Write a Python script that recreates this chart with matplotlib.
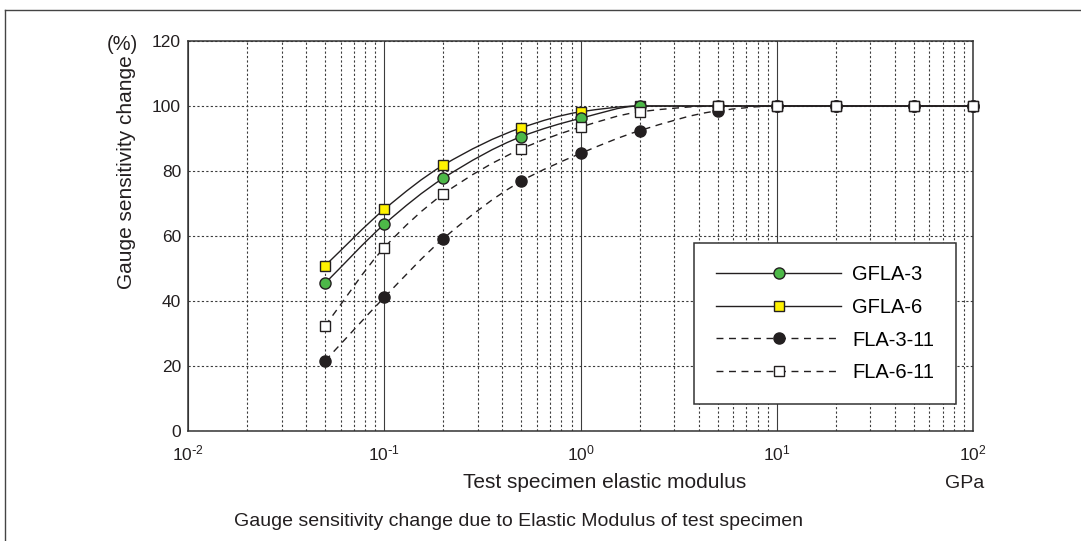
import numpy as np
import matplotlib
matplotlib.use('Agg')
import matplotlib.pyplot as plt
from matplotlib.path import Path
from matplotlib.patches import PathPatch
from matplotlib.lines import Line2D
from matplotlib.ticker import LogLocator, NullFormatter, FuncFormatter

plt.rcParams['font.family'] = ['Liberation Sans', 'DejaVu Sans']
plt.rcParams['mathtext.default'] = 'regular'
plt.rcParams['axes.unicode_minus'] = False
plt.rcParams['lines.scale_dashes'] = False

W, H = 1081, 541

# elastic modulus of test specimen (GPa)
MODULUS = [0.05, 0.1, 0.2, 0.5, 1, 2, 5, 10, 20, 50, 100]
# gauge sensitivity change (%)
GFLA_3 = [45.5, 63.6, 77.8, 90.6, 96.2, 100, 100, 100, 100, 100, 100]
GFLA_6 = [50.9, 68.2, 81.8, 93.3, 98.2, 100, 100, 100, 100, 100, 100]
FLA_3_11 = [21.6, 41.1, 59.2, 76.9, 85.4, 92.4, 98.5, 100, 100, 100, 100]
FLA_6_11 = [32.4, 56.4, 72.9, 86.8, 93.5, 98.2, 100, 100, 100, 100, 100]
LABELS = ['GFLA-3', 'GFLA-6', 'FLA-3-11', 'FLA-6-11']
Y_TICKS = [0, 20, 40, 60, 80, 100, 120]
X_TICKS = [1e-2, 1e-1, 1e0, 1e1, 1e2]

INK = '#231f20'
GRID = '#3c3c3c'
DASH = (0, (5, 4))
DOT = (0, (1.6, 1.6))

# (values, linestyle, marker, face colour, zorder) in legend order
STYLES = [
    (GFLA_3, '-', 'o', '#4db848', 4),
    (GFLA_6, '-', 's', '#fff200', 3),
    (FLA_3_11, DASH, 'o', INK, 5),
    (FLA_6_11, DASH, 's', 'white', 6),
]


def smooth_path(xs, ys):
    # monotone cubic through the points, as bezier segments in log-x space
    u = np.log10(np.asarray(xs, dtype=float))
    y = np.asarray(ys, dtype=float)
    h = np.diff(u)
    d = np.diff(y) / h
    m = np.zeros_like(y)
    m[0], m[-1] = d[0], d[-1]
    for i in range(1, len(y) - 1):
        if d[i - 1] * d[i] > 0:
            w1 = 2 * h[i] + h[i - 1]
            w2 = h[i] + 2 * h[i - 1]
            m[i] = (w1 + w2) / (w1 / d[i - 1] + w2 / d[i])
    verts = [(xs[0], y[0])]
    codes = [Path.MOVETO]
    for i in range(len(y) - 1):
        c1 = (10 ** (u[i] + h[i] / 3), y[i] + m[i] * h[i] / 3)
        c2 = (10 ** (u[i + 1] - h[i] / 3), y[i + 1] - m[i + 1] * h[i] / 3)
        verts += [c1, c2, (xs[i + 1], y[i + 1])]
        codes += [Path.CURVE4] * 3
    return Path(verts, codes)


def decade_label(x, pos):
    e = int(round(np.log10(x)))
    exp = r'\text{-}%d' % -e if e < 0 else '%d' % e
    return r'$\mathdefault{10^{%s}}$' % exp


fig = plt.figure(figsize=(W / 100, H / 100), dpi=100)
ax = fig.add_axes([188 / W, 1 - 431 / H, (973 - 188) / W, (431 - 41) / H])

ax.set_xscale('log')
ax.set_xlim(1e-2, 1e2)
ax.set_ylim(0, 120)
ax.set_xticks(X_TICKS)
ax.xaxis.set_major_formatter(FuncFormatter(decade_label))
ax.xaxis.set_minor_locator(LogLocator(base=10, subs=np.arange(2, 10)))
ax.xaxis.set_minor_formatter(NullFormatter())
ax.set_yticks(Y_TICKS)
ax.tick_params(which='both', length=0, labelsize=12.5, colors=INK)
ax.tick_params(axis='y', pad=5)
ax.tick_params(axis='x', pad=9)

ax.grid(which='major', axis='x', color=GRID, lw=0.8, ls='-')
ax.grid(which='minor', axis='x', color=GRID, lw=0.8, ls=DOT)
ax.grid(which='major', axis='y', color=GRID, lw=0.8, ls=DOT)
ax.set_axisbelow(True)
for sp in ax.spines.values():
    sp.set_color('#333333')
    sp.set_linewidth(1.1)

handles = []
for vals, ls, mk, fc, z in STYLES:
    ax.add_patch(PathPatch(smooth_path(MODULUS, vals), fill=False,
                           edgecolor=INK, lw=1.0, linestyle=ls, zorder=2.5))
    ms = 8 if mk == 'o' else 7.5
    ax.plot(MODULUS, vals, ls='none', marker=mk, ms=ms, mfc=fc, mec=INK,
            mew=1.0, zorder=z, clip_on=False)
    handles.append(Line2D([], [], color=INK, lw=1.0, ls=ls, marker=mk,
                          ms=ms, mfc=fc, mec=INK, mew=1.0))

leg = ax.legend(handles, LABELS, loc='upper left',
                bbox_to_anchor=((694 - 188) / 785, (431 - 243) / 390),
                frameon=True, fancybox=False, edgecolor='#333333',
                framealpha=1, fontsize=14.5, handlelength=6.2,
                handletextpad=0.55, borderpad=1.1, labelspacing=0.68,
                borderaxespad=0)
leg.get_frame().set_linewidth(1.1)
leg.set_zorder(10)

fig.text(126 / W, 1 - 172 / H, 'Gauge sensitivity change', rotation=90,
         fontsize=15, ha='center', va='center', color=INK)
fig.text(138 / W, 1 - 45 / H, '(%)', fontsize=14.5, ha='right',
         va='center', color=INK)
fig.text(605 / W, 1 - 483 / H, 'Test specimen elastic modulus',
         fontsize=15, ha='center', va='center', color=INK)
fig.text(965 / W, 1 - 483 / H, 'GPa', fontsize=14, ha='center',
         va='center', color=INK)
fig.text(518 / W, 1 - 521 / H,
         'Gauge sensitivity change due to Elastic Modulus of test specimen',
         fontsize=14, ha='center', va='center', color=INK)

# outer frame (left and top edges only are visible)
fig.add_artist(Line2D([5 / W, 5 / W], [0, 1 - 10 / H], color='#444444', lw=1.0))
fig.add_artist(Line2D([5 / W, 1], [1 - 10 / H, 1 - 10 / H], color='#444444', lw=1.0))

fig.savefig('out.png', dpi=100)
